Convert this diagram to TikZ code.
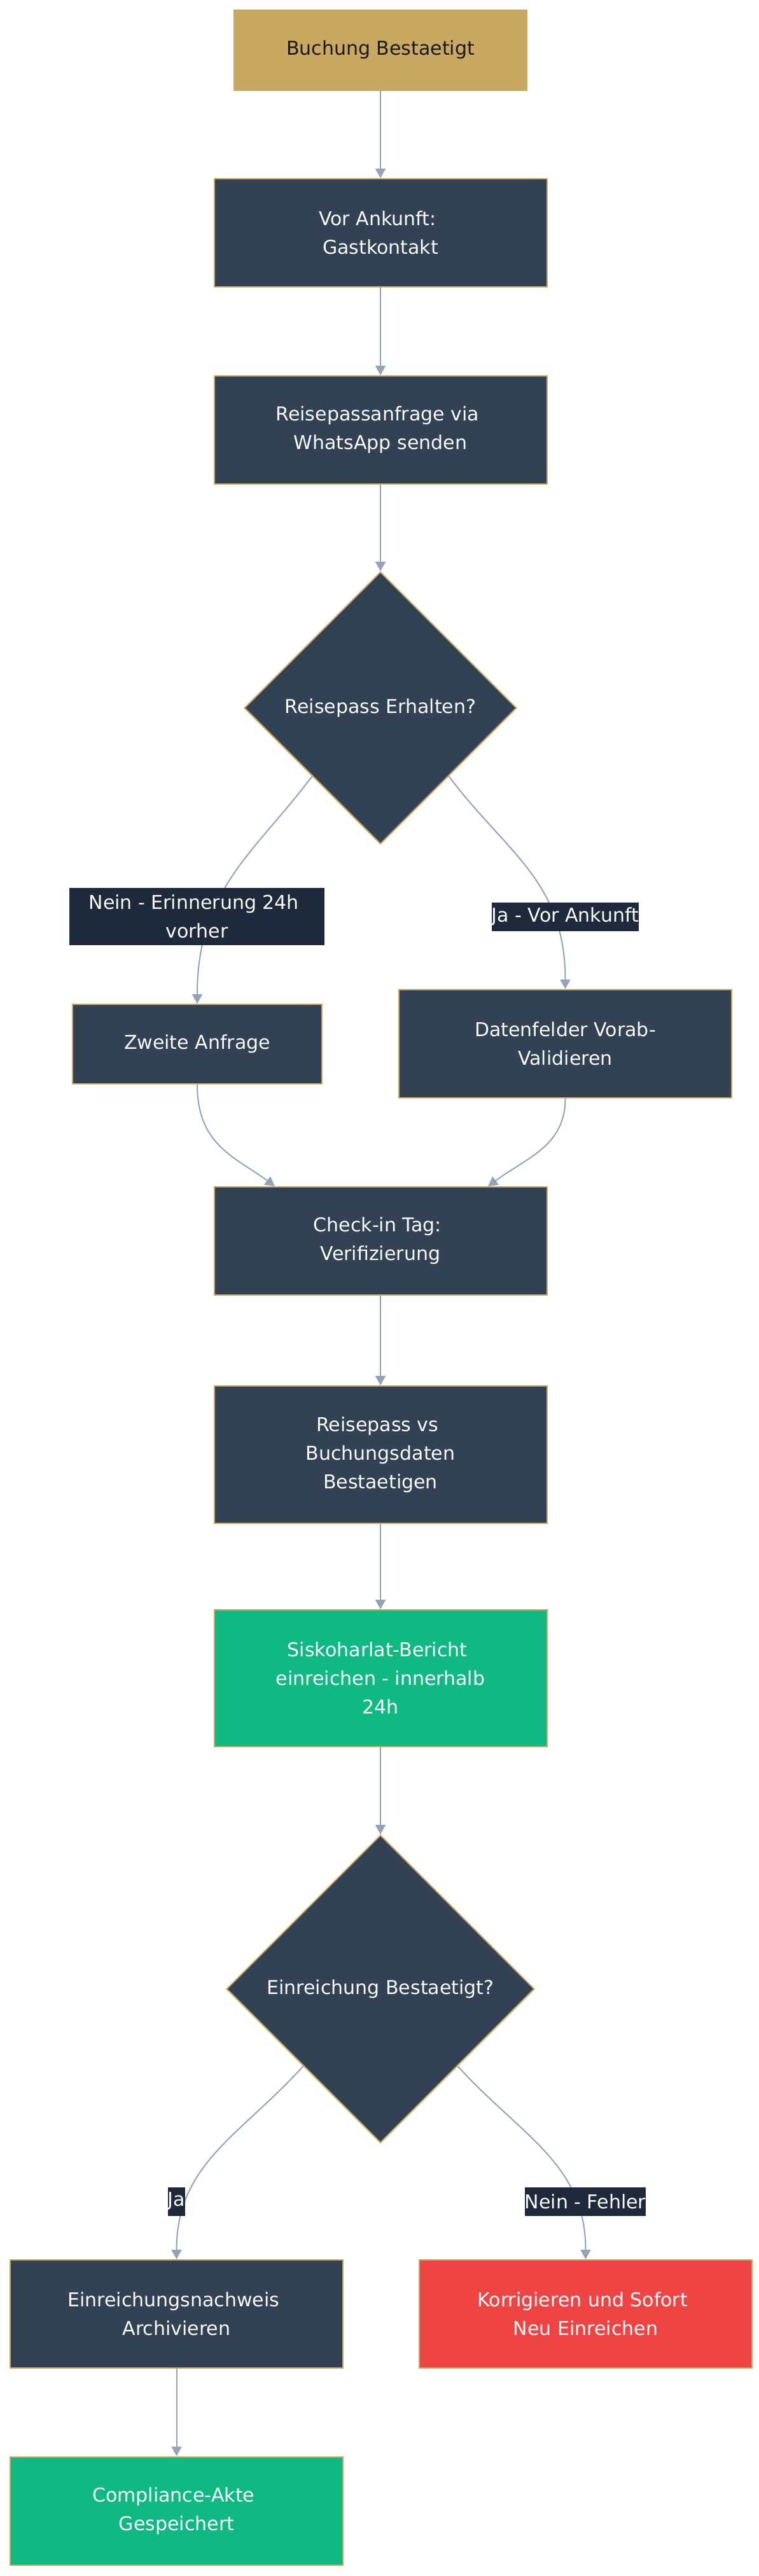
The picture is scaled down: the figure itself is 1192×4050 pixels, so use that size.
\documentclass[tikz,border=0pt]{standalone}
\usepackage{fontspec}
\setmainfont{DejaVu Sans}
\usetikzlibrary{shapes.geometric,arrows.meta}
\definecolor{gold}{HTML}{C9A862}
\definecolor{slate}{HTML}{334155}
\definecolor{lblc}{HTML}{1E293B}
\definecolor{emer}{HTML}{10B981}
\definecolor{redc}{HTML}{EF4444}
\definecolor{edgec}{HTML}{94A3B8}
\definecolor{txtw}{HTML}{F8FAFC}
\newcommand{\tsp}{\hspace*{9.5pt}}
\begin{document}
\begin{tikzpicture}[x=1pt,y=-1pt,
  every node/.style={font=\fontsize{30}{45}\selectfont, align=center, inner sep=0pt},
  box/.style={rectangle, draw=gold, line width=2pt, fill=slate, text=txtw, minimum width=523pt, minimum height=170pt},
  startbox/.style={rectangle, draw=gold, fill=gold, text=black!90, minimum width=461pt, minimum height=127pt},
  greenbox/.style={box, fill=emer},
  redbox/.style={box, fill=redc},
  decision/.style={diamond, draw=gold, line width=2pt, fill=slate, text=txtw, aspect=1},
  elabel/.style={fill=lblc, text=txtw, minimum height=45pt},
  edge/.style={draw=edgec, line width=2pt, -{Triangle[width=16pt,length=15pt]}}]

\fill[white] (0,0) rectangle (1192,4050);
\useasboundingbox (0,0) rectangle (1192,4050);

% nodes
\node[startbox] (start) at (598,78.5) {Buchung Bestaetigt};
\node[box] (vor) at (598,366) {Vor Ankunft:\tsp\\Gastkontakt};
\node[box] (reise) at (598,676) {Reisepassanfrage via\tsp\\WhatsApp senden};
\node[decision, minimum width=428pt, minimum height=428pt] (d1) at (598,1113) {Reisepass Erhalten?};
\node[box, minimum width=392pt, minimum height=125pt] (zweite) at (310,1641.5) {Zweite Anfrage};
\node[box] (daten) at (888.5,1641) {Datenfelder Vorab-\\Validieren};
\node[box] (checkin) at (598,1951) {Check-in Tag:\tsp\\Verifizierung};
\node[box, minimum height=216pt] (vs) at (598,2287) {Reisepass vs\tsp\\Buchungsdaten\tsp\\Bestaetigen};
\node[greenbox, minimum height=215pt] (sisko) at (598,2638.5) {Siskoharlat-Bericht\tsp\\einreichen - innerhalb\tsp\\24h};
\node[decision, minimum width=484pt, minimum height=484pt] (d2) at (598,3127) {Einreichung Bestaetigt?};
\node[box] (einr) at (277.5,3638) {Einreichungsnachweis\tsp\\Archivieren};
\node[redbox] (korr) at (920.5,3638) {Korrigieren und Sofort\tsp\\Neu Einreichen};
\node[greenbox] (compl) at (277.5,3947.5) {Compliance-Akte\tsp\\Gespeichert};

% edges
\draw[edge] (start.south) -- (vor.north);
\draw[edge] (vor.south) -- (reise.north);
\draw[edge] (reise.south) -- (d1.north);
\draw[edge] (d1.south west) .. controls +(-90,120) and +(0,-180) .. (zweite.north);
\draw[edge] (d1.south east) .. controls +(90,120) and +(0,-170) .. (daten.north);
\draw[edge] (zweite.south) .. controls +(0,96) and +(-62,-46) .. ([xshift=-166pt]checkin.north);
\draw[edge] (daten.south) .. controls +(0,74) and +(63,-46) .. ([xshift=169pt]checkin.north);
\draw[edge] (checkin.south) -- (vs.north);
\draw[edge] (vs.south) -- (sisko.north);
\draw[edge] (sisko.south) -- (d2.north);
\draw[edge] (d2.south west) .. controls +(-100,110) and +(0,-150) .. (einr.north);
\draw[edge] (d2.south east) .. controls +(100,110) and +(0,-150) .. (korr.north);
\draw[edge] (einr.south) -- (compl.north);

% edge labels
\node[elabel, minimum width=401pt, minimum height=90pt] (l1) at (309.5,1441) {Nein - Erinnerung 24h\tsp\\vorher};
\node[elabel] (l2) at (888.5,1441.5) {Ja - Vor Ankunft};
\node[elabel] (l3) at (277.5,3461) {Ja};
\node[elabel] (l4) at (920,3461) {Nein - Fehler};
\end{tikzpicture}
\end{document}
